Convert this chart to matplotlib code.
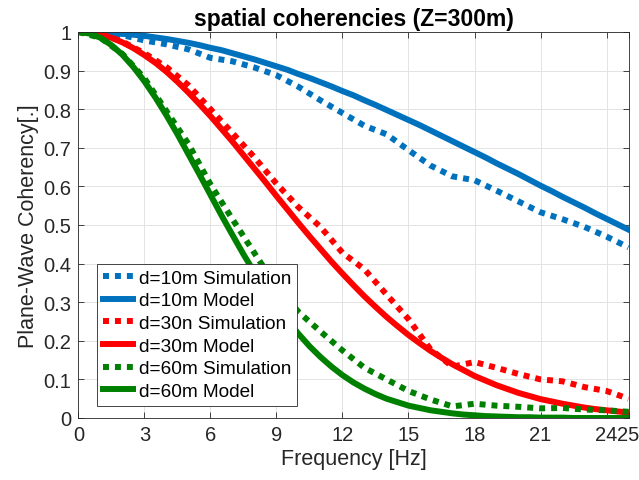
import matplotlib.pyplot as plt
import numpy as np

# Frequency axes (Hz)
freq = np.arange(0, 26, 1)
freq_fine = np.arange(0, 25.5, 0.5)

# d=10m
sim_10 = [1.000, 0.998, 0.992, 0.978, 0.968, 0.955, 0.933, 0.924, 0.908, 0.888,
          0.858, 0.823, 0.790, 0.757, 0.735, 0.694, 0.654, 0.626, 0.616, 0.589,
          0.561, 0.533, 0.515, 0.495, 0.470, 0.442]
mod_10 = [1.000, 1.000, 0.999, 0.997, 0.995, 0.993, 0.990, 0.986, 0.982, 0.977,
          0.972, 0.966, 0.959, 0.953, 0.945, 0.937, 0.929, 0.920, 0.911, 0.902,
          0.891, 0.881, 0.870, 0.859, 0.847, 0.836, 0.823, 0.811, 0.798, 0.785,
          0.772, 0.759, 0.745, 0.731, 0.717, 0.703, 0.689, 0.675, 0.660, 0.646,
          0.632, 0.617, 0.602, 0.588, 0.573, 0.559, 0.545, 0.530, 0.516, 0.502,
          0.488]

# d=30m
sim_30 = [1.000, 0.995, 0.975, 0.945, 0.909, 0.862, 0.800, 0.738, 0.675, 0.607,
          0.546, 0.495, 0.428, 0.385, 0.320, 0.256, 0.178, 0.133, 0.145, 0.130,
          0.114, 0.100, 0.095, 0.080, 0.070, 0.050]
mod_30 = [1.000, 0.998, 0.993, 0.985, 0.973, 0.958, 0.940, 0.920, 0.897, 0.871,
          0.843, 0.813, 0.782, 0.749, 0.716, 0.681, 0.646, 0.611, 0.575, 0.540,
          0.505, 0.471, 0.438, 0.405, 0.374, 0.344, 0.315, 0.288, 0.262, 0.238,
          0.215, 0.194, 0.174, 0.156, 0.139, 0.124, 0.109, 0.097, 0.085, 0.075,
          0.065, 0.057, 0.049, 0.043, 0.037, 0.032, 0.027, 0.023, 0.020, 0.017,
          0.014]

# d=60m
sim_60 = [1.000, 0.985, 0.943, 0.880, 0.795, 0.710, 0.605, 0.515, 0.427, 0.340,
          0.275, 0.224, 0.175, 0.130, 0.100, 0.070, 0.048, 0.030, 0.037, 0.032,
          0.029, 0.025, 0.026, 0.022, 0.020, 0.016]
mod_60 = [1.000, 0.996, 0.985, 0.966, 0.941, 0.909, 0.872, 0.830, 0.784, 0.735,
          0.683, 0.631, 0.578, 0.525, 0.474, 0.424, 0.377, 0.333, 0.291, 0.253,
          0.218, 0.186, 0.158, 0.133, 0.111, 0.092, 0.076, 0.062, 0.050, 0.041,
          0.032, 0.026, 0.020, 0.016, 0.012, 0.009, 0.007, 0.005, 0.004, 0.003,
          0.002, 0.002, 0.001, 0.001, 0.001, 0.000, 0.000, 0.000, 0.000, 0.000,
          0.000]

xticks = [0, 3, 6, 9, 12, 15, 18, 21, 24, 25]
yticks = np.round(np.arange(0, 1.01, 0.1), 1)
yticklabels = ['0', '0.1', '0.2', '0.3', '0.4', '0.5', '0.6', '0.7', '0.8', '0.9', '1']

plt.rcParams['font.family'] = ['Liberation Sans', 'DejaVu Sans']

blue = '#0072BD'
red = '#FF0000'
green = '#008000'
lw = 4.3
dots = (0, (1, 1))

fig = plt.figure(figsize=(6.39, 4.81), dpi=100)
ax = fig.add_axes([0.1228, 0.1289, 0.8608, 0.8025])

ax.plot(freq, sim_10, color=blue, lw=lw, ls=dots, dash_capstyle='butt', label='d=10m Simulation')
ax.plot(freq_fine, mod_10, color=blue, lw=lw, label='d=10m Model')
ax.plot(freq, sim_30, color=red, lw=lw, ls=dots, dash_capstyle='butt', label='d=30n Simulation')
ax.plot(freq_fine, mod_30, color=red, lw=lw, label='d=30m Model')
ax.plot(freq, sim_60, color=green, lw=lw, ls=dots, dash_capstyle='butt', label='d=60m Simulation')
ax.plot(freq_fine, mod_60, color=green, lw=lw, label='d=60m Model')

ax.set_xlim(0, 25)
ax.set_ylim(0, 1)
ax.set_xticks(xticks)
ax.set_yticks(yticks)
ax.set_yticklabels(yticklabels)
ax.grid(True, color='#e3e3e3', lw=0.7)
ax.set_axisbelow(True)
ax.tick_params(direction='in', length=4, width=0.6, colors='#262626',
               labelsize=14.5, top=True, right=True, pad=5)
for s in ax.spines.values():
    s.set_color('#262626')
    s.set_linewidth(0.6)

ax.set_xlabel('Frequency [Hz]', fontsize=15.5, color='#262626', labelpad=3)
ax.set_ylabel('Plane-Wave Coherency[.]', fontsize=15.5, color='#262626', labelpad=3)
ax.set_title('spatial coherencies (Z=300m)', fontsize=16.5, fontweight='bold', pad=5)

leg = ax.legend(loc='lower left', bbox_to_anchor=(0.034, 0.032), borderaxespad=0,
                fontsize=13.7, handlelength=1.6, handletextpad=0.3,
                labelspacing=0.28, borderpad=0.3, fancybox=False, framealpha=1)
leg.get_frame().set_edgecolor('#262626')
leg.get_frame().set_linewidth(0.6)

fig.savefig('out.png', dpi=100)
